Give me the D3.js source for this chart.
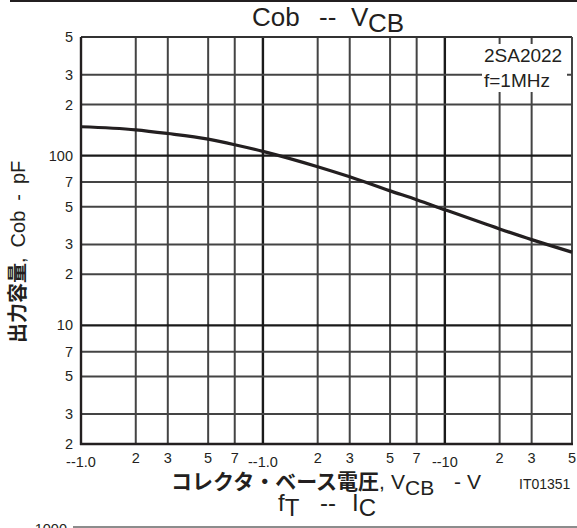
<!DOCTYPE html>
<html>
<head>
<meta charset="utf-8">
<script src="https://cdn.jsdelivr.net/npm/d3@7"></script>
<style>
  body { margin: 0; background: #fff; }
  text { font-family: "Liberation Sans", Arial, sans-serif; fill: #231f20; }
  .jp { font-family: "Noto Sans CJK JP", sans-serif; font-weight: bold; }
</style>
</head>
<body>
<svg width="577" height="528"></svg>
<script>
// data
const vcb = [0.1, 0.2, 0.3, 0.5, 0.7, 1, 2, 3, 5, 7, 10, 20, 30, 50];
const cob = [148, 142, 135, 125, 116, 106, 86, 75, 62, 55, 48, 37, 32, 27];

const xTicks = [0.1, 0.2, 0.3, 0.5, 0.7, 1, 2, 3, 5, 7, 10, 20, 30, 50];
const xLabels = ["--1.0", "2", "3", "5", "7", "--1.0", "2", "3", "5", "7", "--10", "2", "3", "5"];
const yTicks = [2, 3, 5, 7, 10, 20, 30, 50, 70, 100, 200, 300, 500];
const yLabels = ["2", "3", "5", "7", "10", "2", "3", "5", "7", "100", "2", "3", "5"];
const majorX = [1, 10];
const majorY = [10, 100];

const svg = d3.select("svg");
const ink = "#231f20";

const plotL = 81, plotR = 572, plotT = 37, plotB = 444;

const x = d3.scaleLog().domain([0.1, 50]).range([plotL, plotR]);
const y = d3.scaleLog().domain([2, 500]).range([plotB, plotT]);

// top rule
svg.append("line")
  .attr("x1", 10).attr("x2", 577).attr("y1", 1).attr("y2", 1)
  .attr("stroke", ink).attr("stroke-width", 2);

// grid: decade lines a bit heavier
const gridG = svg.append("g");
xTicks.forEach(d => {
  if (d <= 0.1 || d >= 50) return;
  const major = majorX.includes(d);
  gridG.append("line")
    .attr("x1", x(d)).attr("x2", x(d))
    .attr("y1", plotT).attr("y2", plotB)
    .attr("stroke", major ? "#1a1a1a" : "#444")
    .attr("stroke-width", major ? 2.4 : 2);
});
yTicks.forEach(d => {
  if (d <= 2 || d >= 500) return;
  const major = majorY.includes(d);
  gridG.append("line")
    .attr("x1", plotL).attr("x2", plotR)
    .attr("y1", y(d)).attr("y2", y(d))
    .attr("stroke", major ? "#1a1a1a" : "#444")
    .attr("stroke-width", major ? 2.4 : 2);
});

// frame
svg.append("line").attr("x1", plotL).attr("x2", plotR).attr("y1", plotT).attr("y2", plotT)
  .attr("stroke", "#333").attr("stroke-width", 2);
svg.append("line").attr("x1", plotR).attr("x2", plotR).attr("y1", plotT).attr("y2", plotB)
  .attr("stroke", "#444").attr("stroke-width", 2);
svg.append("line").attr("x1", plotL).attr("x2", plotL).attr("y1", plotT).attr("y2", plotB + 1)
  .attr("stroke", ink).attr("stroke-width", 2.4);
svg.append("line").attr("x1", plotL - 1).attr("x2", plotR + 1).attr("y1", plotB).attr("y2", plotB)
  .attr("stroke", ink).attr("stroke-width", 2.4);

// legend box covering grid
svg.append("rect")
  .attr("x", 482).attr("y", 44).attr("width", 85).attr("height", 48)
  .attr("fill", "#fff");
svg.append("text").attr("x", 484).attr("y", 62).attr("font-size", 19).text("2SA2022");
svg.append("text").attr("x", 484).attr("y", 87).attr("font-size", 19).text("f=1MHz");

// curve
const line = d3.line()
  .x((d, i) => x(vcb[i]))
  .y(d => y(d))
  .curve(d3.curveMonotoneX);
svg.append("path")
  .datum(cob)
  .attr("d", line)
  .attr("fill", "none")
  .attr("stroke", ink)
  .attr("stroke-width", 3.2);

// y tick labels
svg.append("g")
  .selectAll("text")
  .data(yTicks)
  .join("text")
    .attr("x", 73)
    .attr("y", d => y(d) + 5)
    .attr("text-anchor", "end")
    .attr("font-size", 14.5)
    .text((d, i) => yLabels[i]);

// x tick labels
svg.append("g")
  .selectAll("text")
  .data(xTicks)
  .join("text")
    .attr("x", d => x(d))
    .attr("y", (d, i) => xLabels[i].startsWith("--") ? 467 : 463)
    .attr("text-anchor", "middle")
    .attr("font-size", 14.5)
    .text((d, i) => xLabels[i]);

// title
const title = svg.append("text").attr("x", 252).attr("y", 26).attr("font-size", 26);
title.append("tspan").text("Cob");
title.append("tspan").attr("x", 319).text("--");
title.append("tspan").attr("x", 351).text("V");
title.append("tspan").attr("x", 368).attr("dy", 6).text("CB");

// x axis title
const xt = svg.append("text").attr("x", 171).attr("y", 489).attr("font-size", 21);
xt.append("tspan").attr("class", "jp").text("コレクタ・ベース電圧");
xt.append("tspan").text(",");
xt.append("tspan").attr("x", 391).text("V");
xt.append("tspan").attr("dy", 6).text("CB");
xt.append("tspan").attr("x", 454).attr("dy", -6).text("-");
xt.append("tspan").attr("x", 467).text("V");

svg.append("text").attr("x", 519).attr("y", 489).attr("font-size", 14).text("IT01351");

// y axis title
const yt = svg.append("text")
  .attr("transform", "translate(25,343) rotate(-90)")
  .attr("font-size", 20);
yt.append("tspan").attr("class", "jp").text("出力容量");
yt.append("tspan").text(",");
yt.append("tspan").attr("dx", 10).text("Cob");
yt.append("tspan").attr("dx", 10).text("-");
yt.append("tspan").attr("dx", 10).text("pF");

// next chart heading, cut off at the bottom
const ft = svg.append("text").attr("x", 278).attr("y", 511).attr("font-size", 24);
ft.append("tspan").text("f");
ft.append("tspan").attr("dy", 5).text("T");
ft.append("tspan").attr("x", 320).attr("dy", -5).text("--");
ft.append("tspan").attr("x", 352).text("I");
ft.append("tspan").attr("dy", 5).text("C");

svg.append("line")
  .attr("x1", 73).attr("x2", 577).attr("y1", 527).attr("y2", 527)
  .attr("stroke", "#666").attr("stroke-width", 1.5);
svg.append("text").attr("x", 67).attr("y", 534).attr("text-anchor", "end")
  .attr("font-size", 14.5).text("1000");
</script>
</body>
</html>
